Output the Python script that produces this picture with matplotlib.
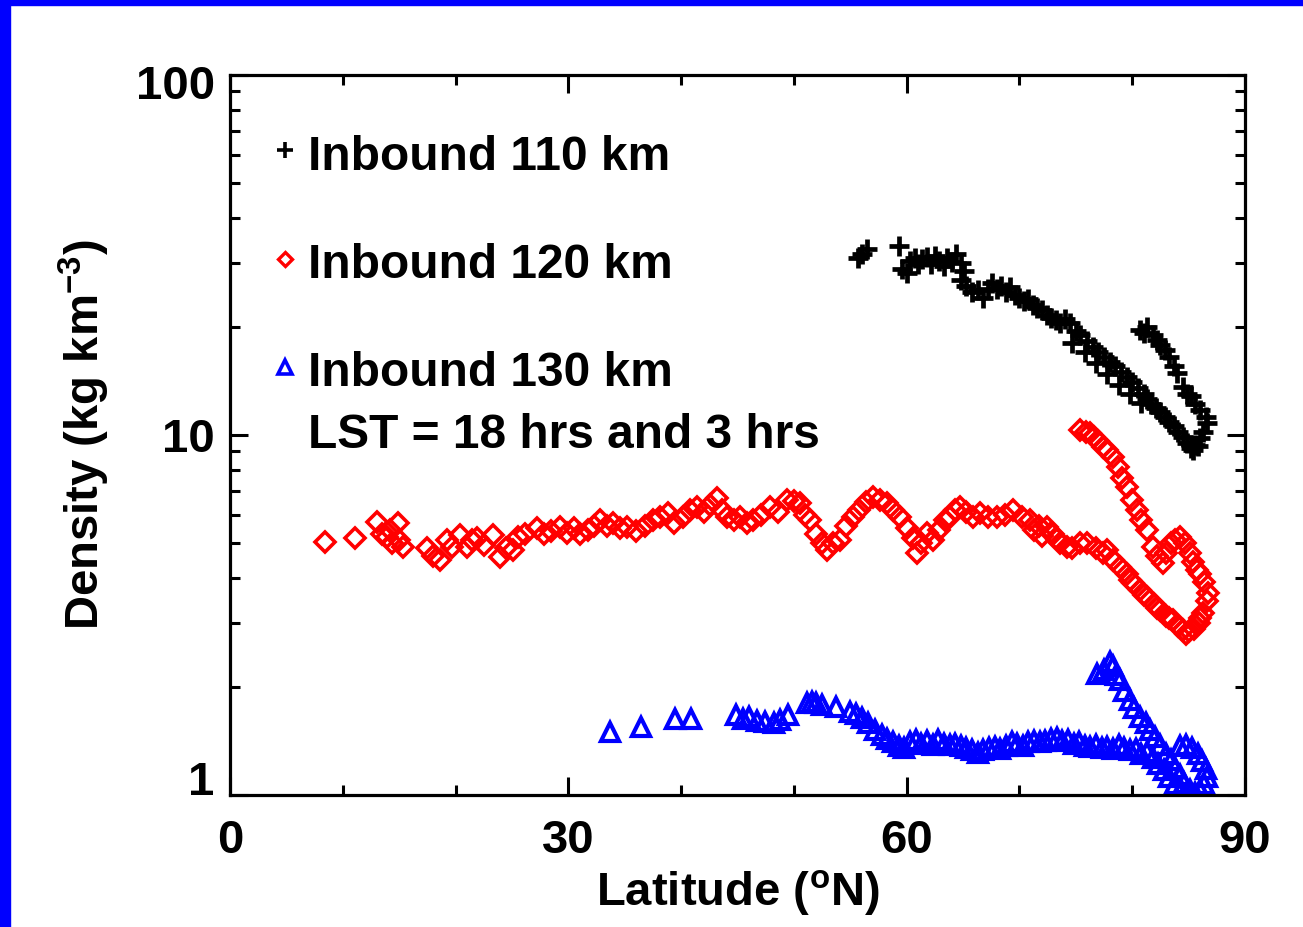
import matplotlib
matplotlib.use("Agg")
import matplotlib.pyplot as plt
import matplotlib.transforms as mtransforms
from matplotlib.patches import Rectangle
from matplotlib.ticker import FixedLocator, NullFormatter

plt.rcParams['font.family'] = ['Liberation Sans', 'DejaVu Sans']
plt.rcParams['font.weight'] = 'bold'
plt.rcParams['mathtext.fontset'] = 'custom'
plt.rcParams['mathtext.rm'] = 'Liberation Sans:bold'
plt.rcParams['mathtext.it'] = 'Liberation Sans:bold'
plt.rcParams['mathtext.bf'] = 'Liberation Sans:bold'
plt.rcParams['mathtext.default'] = 'rm'

# ---------------- data ----------------
lat_110 = [55.7, 56.0, 56.5, 59.3, 59.6, 60.0, 60.3, 60.7, 61.0, 61.4, 61.8, 62.2, 62.5, 62.9,
           63.3, 63.6, 64.0, 64.4, 64.8, 65.1, 64.8, 65.3, 65.8, 66.3, 66.8, 67.2, 67.6, 68.0,
           68.4, 68.8, 69.2, 69.6, 70.0, 70.4, 70.8, 71.2, 71.6, 72.0, 72.4, 72.8, 73.2, 73.6,
           74.0, 74.5, 75.0, 75.4, 74.7, 76.0, 76.5, 77.0, 77.5, 78.0, 78.5, 79.0, 79.5, 80.0,
           80.5, 81.0, 81.3, 81.7, 82.1, 82.5, 82.9, 83.3, 83.7, 84.1, 84.5, 84.9, 85.2, 85.6,
           86.0, 86.3, 86.6, 86.5, 86.0, 85.6, 85.2, 84.9, 84.5, 84.0, 83.7, 83.3, 82.9, 82.5,
           82.2, 81.8, 81.3, 80.7, 81.0, 85.8, 85.4, 75.8, 76.8, 77.8, 78.8, 79.8, 80.8]
den_110 = [31.0, 31.8, 32.8, 33.5, 29.0, 28.2, 30.5, 31.0, 29.8, 30.8, 31.2, 29.8, 31.5, 30.5,
           29.5, 31.0, 30.2, 31.8, 30.0, 28.5, 27.0, 26.0, 25.0, 25.2, 24.0, 25.5, 26.5, 25.5,
           26.0, 25.0, 25.8, 24.5, 24.0, 23.5, 23.8, 23.0, 22.5, 22.2, 21.5, 21.2, 20.8, 20.5,
           21.0, 20.5, 19.5, 19.0, 18.0, 18.2, 17.6, 17.0, 16.5, 16.0, 15.5, 15.0, 14.5, 14.0,
           13.5, 13.0, 12.6, 12.2, 11.9, 11.6, 11.2, 10.9, 10.6, 10.2, 9.9, 9.5, 9.2, 9.4,
           9.8, 10.2, 10.8, 11.2, 11.7, 12.2, 12.8, 13.0, 13.6, 14.9, 15.5, 16.5, 17.2, 17.8,
           18.4, 19.0, 20.0, 19.6, 19.2, 9.3, 9.1, 17.0, 15.8, 14.8, 13.8, 13.0, 12.3]

lat_120 = [8.4, 11.1, 13.0, 13.5, 13.9, 14.4, 14.9, 15.3, 15.0, 14.2, 17.5, 18.0, 18.6, 19.2,
           19.7, 20.4, 21.0, 21.5, 21.9, 22.5, 23.3, 23.9, 24.5, 25.1, 25.5, 26.2, 27.2, 27.8,
           28.5, 29.3, 29.9, 30.5, 31.0, 31.7, 32.3, 32.8, 33.4, 34.0, 34.6, 35.2, 36.0, 36.8,
           37.5, 38.1, 38.8, 39.4, 40.2, 40.8, 41.4, 42.0, 42.6, 43.2, 43.6, 44.1, 44.7, 45.2,
           45.8, 46.4, 47.1, 47.9, 48.6, 49.4, 50.0, 50.5, 51.0, 51.4, 52.0, 52.5, 52.9, 53.5,
           54.1, 54.6, 55.2, 55.8, 56.4, 57.0, 57.6, 58.3, 58.8, 59.4, 60.0, 60.6, 60.9, 61.3,
           61.8, 62.3, 62.9, 63.4, 63.8, 64.3, 64.7, 65.3, 65.9, 66.5, 67.2, 68.0, 68.7, 69.4,
           70.2, 70.9, 71.7, 72.4, 73.0, 73.6, 74.2, 74.7, 75.4, 76.0, 76.8, 77.4, 77.8, 78.3,
           78.9, 79.5, 80.1, 80.7, 81.3, 81.9, 82.5, 83.0, 83.6, 84.1, 84.5, 85.0, 85.5, 85.9,
           86.3, 86.6, 86.7, 86.4, 86.0, 85.7, 85.4, 85.1, 84.7, 84.2, 83.8, 83.4, 83.0, 82.7,
           82.2, 81.8, 81.3, 80.8, 80.4, 80.0, 79.5, 79.1, 78.7, 78.3, 77.8, 77.4, 77.0, 76.6,
           76.3, 75.9, 75.4, 71.3, 72.0, 72.8, 73.3, 79.8, 81.0, 82.2, 83.3, 84.8, 86.0]
den_120 = [5.04, 5.18, 5.73, 5.3, 5.21, 5.0, 5.70, 4.89, 5.1, 5.45, 4.86, 4.6, 4.50, 5.11,
           4.9, 5.28, 4.89, 5.1, 5.18, 4.95, 5.28, 4.58, 4.85, 4.79, 5.21, 5.3, 5.52, 5.3,
           5.4, 5.55, 5.34, 5.5, 5.3, 5.45, 5.6, 5.81, 5.6, 5.70, 5.5, 5.55, 5.4, 5.6,
           5.81, 5.9, 6.07, 5.7, 5.92, 6.2, 6.31, 6.1, 6.4, 6.68, 6.2, 5.92, 5.8, 5.92,
           5.7, 5.81, 6.0, 6.31, 6.1, 6.60, 6.55, 6.47, 6.0, 5.81, 5.3, 5.0, 4.79, 5.0,
           5.11, 5.6, 5.92, 6.2, 6.5, 6.73, 6.6, 6.47, 6.2, 5.92, 5.5, 5.18, 4.70, 5.0,
           5.34, 5.1, 5.45, 5.81, 5.92, 6.2, 6.31, 6.1, 5.9, 6.07, 5.9, 5.92, 6.0, 6.19,
           5.9, 5.81, 5.6, 5.55, 5.3, 5.01, 4.9, 4.86, 5.0, 5.01, 4.85, 4.7, 4.79, 4.5,
           4.30, 4.1, 3.88, 3.7, 3.55, 3.4, 3.27, 3.15, 3.06, 2.95, 2.87, 2.85, 2.9, 3.0,
           3.2, 3.45, 3.64, 3.9, 4.1, 4.22, 4.45, 4.70, 5.0, 5.2, 5.1, 5.0, 4.7, 4.4,
           4.6, 4.89, 5.45, 5.8, 6.19, 6.6, 7.17, 7.6, 8.15, 8.7, 9.1, 9.26, 9.6, 9.9,
           10.13, 10.2, 10.33, 5.45, 5.25, 5.35, 5.15, 3.95, 3.6, 3.3, 3.1, 2.8, 3.1]

lat_130 = [33.7, 36.4, 39.5, 40.9, 44.9, 45.5, 46.0, 46.7, 47.4, 48.2, 48.8, 49.5, 51.2, 51.6,
           52.0, 52.5, 53.7, 55.0, 55.5, 56.0, 56.6, 57.2, 57.8, 58.3, 58.8, 59.3, 59.8, 60.3,
           60.8, 61.3, 61.8, 62.3, 62.8, 63.3, 63.8, 64.3, 64.8, 65.3, 65.8, 66.3, 66.8, 67.3,
           67.8, 68.3, 68.8, 69.3, 69.8, 70.3, 70.8, 71.3, 71.8, 72.3, 72.8, 73.3, 73.8, 74.3,
           74.8, 75.3, 75.8, 76.3, 76.8, 77.3, 77.8, 78.3, 78.8, 79.3, 79.8, 80.3, 80.8, 81.3,
           81.8, 82.3, 82.8, 83.3, 83.8, 84.3, 84.8, 85.3,
           76.9, 77.5, 78.0, 78.3, 78.6, 78.9, 79.3, 79.8, 80.2, 80.7, 81.2, 81.6, 82.0, 82.5,
           83.0, 83.4, 83.8, 84.2, 84.6, 85.1, 85.6, 86.0, 86.4, 86.6, 86.5, 86.2, 85.8, 85.3,
           84.8, 84.2]
den_130 = [1.50, 1.54, 1.63, 1.63, 1.67, 1.63, 1.65, 1.61, 1.60, 1.58, 1.62, 1.67, 1.80, 1.81,
           1.80, 1.78, 1.76, 1.70, 1.68, 1.64, 1.58, 1.52, 1.47, 1.43, 1.40, 1.37, 1.35, 1.40,
           1.42, 1.39, 1.41, 1.38, 1.42, 1.39, 1.38, 1.39, 1.37, 1.35, 1.33, 1.31, 1.33, 1.35,
           1.36, 1.34, 1.37, 1.40, 1.39, 1.37, 1.40, 1.41, 1.40, 1.41, 1.43, 1.44, 1.41, 1.42,
           1.39, 1.40, 1.37, 1.36, 1.38, 1.35, 1.36, 1.34, 1.38, 1.35, 1.33, 1.34, 1.30, 1.32,
           1.27, 1.22, 1.17, 1.12, 1.07, 1.03, 1.00, 0.98,
           2.17, 2.22, 2.34, 2.28, 2.15, 2.09, 1.95, 1.84, 1.75, 1.65, 1.58, 1.52, 1.45, 1.38,
           1.30, 1.25, 1.19, 1.14, 1.08, 1.03, 1.01, 1.03, 1.07, 1.12, 1.18, 1.24, 1.30, 1.35,
           1.38, 1.37]

legend_labels = ["Inbound 110 km", "Inbound 120 km", "Inbound 130 km"]
note_text = "LST = 18 hrs and 3 hrs"
x_ticks = [0, 30, 60, 90]
x_minor = [10, 20, 40, 50, 70, 80]
y_ticks = [1, 10, 100]
y_ticklabels = ["1", "10", "100"]

# ---------------- figure ----------------
fig = plt.figure(figsize=(13.03, 9.27), dpi=100, facecolor='white')
ax = fig.add_axes([230/1303, 132/927, 1015/1303, 720/927])

ax.plot(lat_110, den_110, linestyle='none', marker='+', ms=15, mew=3.4, color='black')
ax.plot(lat_120, den_120, linestyle='none', marker='D', ms=10, mew=2.6, mfc='none', mec='#ff0000')
ax.plot(lat_130, den_130, linestyle='none', marker='^', ms=13, mew=3.0, mfc='none', mec='#0000ff')

ax.set_yscale('log')
ax.set_xlim(0, 90)
ax.set_ylim(1, 100)
ax.set_xticks(x_ticks)
ax.set_xticklabels([str(v) for v in x_ticks])
ax.xaxis.set_minor_locator(FixedLocator(x_minor))
ax.set_yticks(y_ticks)
ax.set_yticklabels(y_ticklabels)
ax.yaxis.set_minor_locator(FixedLocator([2, 3, 4, 5, 6, 7, 8, 9, 20, 30, 40, 50, 60, 70, 80, 90]))
ax.yaxis.set_minor_formatter(NullFormatter())

for s in ax.spines.values():
    s.set_linewidth(2.3)
ax.tick_params(which='both', direction='in', top=True, right=True, width=2.2, labelsize=34)
ax.tick_params(which='major', length=13)
ax.tick_params(which='minor', length=7)
ax.tick_params(axis='x', which='major', pad=17)
ax.tick_params(axis='y', which='major', pad=11)
for lab in ax.get_xticklabels() + ax.get_yticklabels():
    lab.set_fontweight('bold')

# IDL-style placement of end labels (kept inside the axis range)
yticks_objs = ax.yaxis.get_major_ticks()
lab1 = yticks_objs[0].label1
lab1.set_verticalalignment('baseline')
lab100 = yticks_objs[2].label1
lab100.set_verticalalignment('top')
lab100.set_transform(lab100.get_transform() +
                     mtransforms.ScaledTranslation(0, 7/72, fig.dpi_scale_trans))

ax.set_xlabel("Latitude ($^{\\mathrm{o}}$N)", fontsize=34, fontweight='bold', labelpad=4)
ax.set_ylabel("Density (kg km$^{-3}$)", fontsize=34, fontweight='bold', labelpad=17)

# legend-like annotations
ax.plot([0.054], [0.8955], transform=ax.transAxes, marker='+', ms=11, mew=2.6, color='black', clip_on=False)
ax.plot([0.054], [0.745], transform=ax.transAxes, marker='D', ms=7, mew=2.4, mfc='none', mec='#ff0000', clip_on=False)
ax.plot([0.054], [0.5945], transform=ax.transAxes, marker='^', ms=10, mew=2.6, mfc='none', mec='#0000ff', clip_on=False)
for yy, txt in zip([0.868, 0.718, 0.568], legend_labels):
    ax.text(0.077, yy, txt, transform=ax.transAxes, fontsize=34.5, fontweight='bold', va='baseline', ha='left')
ax.text(0.077, 0.482, note_text, transform=ax.transAxes, fontsize=34.5, fontweight='bold', va='baseline', ha='left')

# blue frame strips (left and top)
fig.patches.append(Rectangle((0, 0), 10/1303, 1, transform=fig.transFigure, color='#0000ff', zorder=0))
fig.patches.append(Rectangle((0, 1 - 5/927), 1, 5/927, transform=fig.transFigure, color='#0000ff', zorder=0))

fig.savefig("out.png", dpi=100, facecolor='white')
